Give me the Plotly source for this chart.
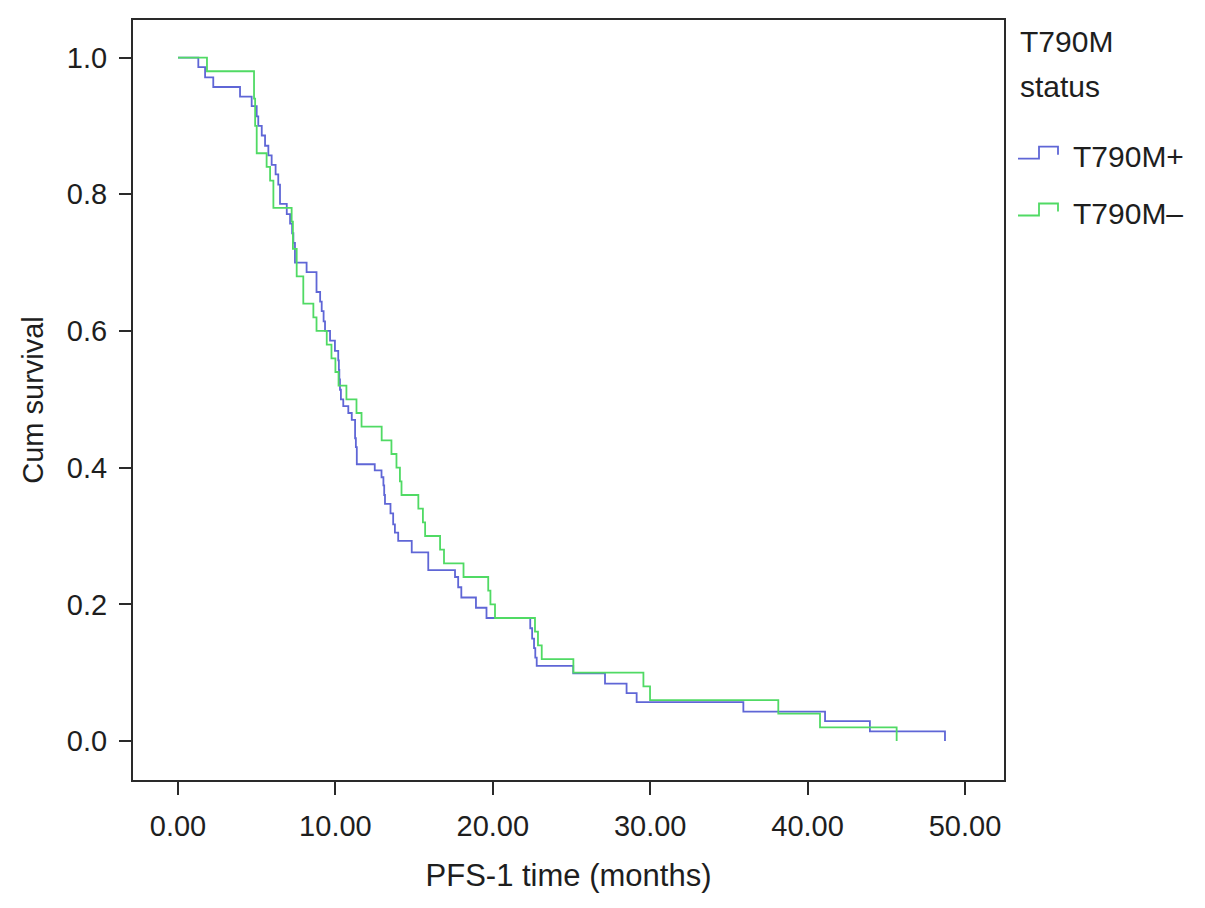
import plotly.graph_objects as go

# ---- data ----
t_pos = [0, 1.29, 1.72, 2.24, 3.94, 4.68, 5.0, 5.1, 5.32, 5.53, 5.74, 5.95, 6.2, 6.37,
         6.48, 6.91, 7.12, 7.25, 7.33, 7.43, 8.17, 8.8, 9.03, 9.13, 9.25, 9.34, 9.66,
         9.97, 10.18, 10.22, 10.25, 10.29, 10.35, 10.5, 10.82, 11.04, 11.25, 11.3, 11.36,
         12.5, 12.93, 13.05, 13.1, 13.15, 13.5, 13.67, 13.78, 13.99, 14.85, 15.9, 17.6,
         17.8, 18.0, 18.93, 19.6, 22.38, 22.5, 22.62, 22.7, 22.79, 25.11, 27.13, 28.5,
         29.14, 35.92, 41.11, 43.96, 48.73]
s_pos = [1.0, 0.986, 0.971, 0.957, 0.943, 0.929, 0.914, 0.90, 0.886, 0.871, 0.857, 0.843,
         0.829, 0.814, 0.786, 0.771, 0.757, 0.743, 0.729, 0.70, 0.686, 0.657, 0.643, 0.629,
         0.614, 0.60, 0.586, 0.571, 0.557, 0.543, 0.529, 0.514, 0.50, 0.49, 0.48, 0.47,
         0.443, 0.43, 0.405, 0.396, 0.386, 0.374, 0.36, 0.347, 0.333, 0.317, 0.305, 0.293,
         0.276, 0.25, 0.24, 0.225, 0.21, 0.195, 0.18, 0.165, 0.15, 0.136, 0.122, 0.11,
         0.099, 0.084, 0.07, 0.057, 0.043, 0.029, 0.014, 0.0]

t_neg = [0, 1.84, 4.83, 4.9, 5.0, 5.63, 5.85, 6.06, 7.22, 7.3, 7.54, 7.96, 8.6, 8.8, 9.45,
         9.75, 10.0, 10.2, 10.7, 11.34, 11.66, 12.94, 13.56, 13.88, 14.1, 14.2, 15.27,
         15.56, 15.7, 16.65, 16.9, 18.14, 19.71, 19.85, 20.14, 22.68, 22.87, 23.11, 25.12,
         29.57, 29.99, 38.14, 40.79, 45.66]
s_neg = [1.0, 0.98, 0.94, 0.90, 0.86, 0.84, 0.82, 0.78, 0.76, 0.72, 0.68, 0.64, 0.62, 0.60,
         0.58, 0.56, 0.54, 0.52, 0.50, 0.48, 0.46, 0.44, 0.42, 0.40, 0.38, 0.36, 0.34, 0.32,
         0.30, 0.28, 0.26, 0.24, 0.22, 0.20, 0.18, 0.16, 0.14, 0.12, 0.10, 0.08, 0.06, 0.04,
         0.02, 0.0]

group_names = ["T790M+", "T790M\u2013"]
legend_title_lines = ["T790M", "status"]
x_ticks = [0, 10, 20, 30, 40, 50]
y_ticks = [0.0, 0.2, 0.4, 0.6, 0.8, 1.0]

BLUE = "#5f66d6"
GREEN = "#50da64"
FONT = "Arial, Liberation Sans, Helvetica, sans-serif"
TXT = "#1e1e1e"

W, H = 1205, 908
OFF = 8  # page body margin offset
L, R, T, B = 133 - OFF, 1004 - OFF, 18 - OFF, 780 - OFF  # plot frame in figure pixels


def px2x(px):
    return (px - OFF - L) / (R - L)


def px2y(py):
    return (B - (py - OFF)) / (B - T)


fig = go.Figure()
fig.add_trace(go.Scatter(x=t_pos, y=s_pos, mode="lines", line=dict(color=BLUE, width=1.8, shape="hv"),
                         name=group_names[0], showlegend=False))
fig.add_trace(go.Scatter(x=t_neg, y=s_neg, mode="lines", line=dict(color=GREEN, width=1.8, shape="hv"),
                         name=group_names[1], showlegend=False))

# custom legend (step icons + labels)
shapes = []
annotations = []
for j, line in enumerate(legend_title_lines):
    annotations.append(dict(x=px2x(1018), y=px2y(40 + j * 45), xref="paper", yref="paper", text=line,
                            showarrow=False, xanchor="left", yanchor="middle", align="left",
                            font=dict(family=FONT, size=30, color=TXT)))
for i, (name, col) in enumerate(zip(group_names, [BLUE, GREEN])):
    cy = 155 + i * 57
    path = "M {} {} L {} {} L {} {} L {} {} L {} {}".format(
        px2x(1018), px2y(cy + 2), px2x(1039), px2y(cy + 2), px2x(1039), px2y(cy - 10),
        px2x(1058), px2y(cy - 10), px2x(1058), px2y(cy - 2))
    shapes.append(dict(type="path", path=path, xref="paper", yref="paper",
                       line=dict(color=col, width=1.8)))
    annotations.append(dict(x=px2x(1071), y=px2y(cy), xref="paper", yref="paper", text=name,
                            showarrow=False, xanchor="left", yanchor="middle",
                            font=dict(family=FONT, size=30, color=TXT)))

axis_common = dict(showline=True, linecolor="#2a2a2a", linewidth=2, mirror=True,
                   showgrid=False, zeroline=False, ticks="outside", tickcolor="#2a2a2a",
                   tickwidth=1.5, tickfont=dict(family=FONT, size=29, color=TXT))

fig.update_layout(
    width=W, height=H,
    margin=dict(l=L, r=W - R, t=T, b=H - B, pad=0),
    paper_bgcolor="white", plot_bgcolor="white",
    font=dict(family=FONT, size=29, color=TXT),
    shapes=shapes, annotations=annotations,
    xaxis=dict(range=[-2.86, 52.48], tickvals=x_ticks, tickformat=".2f", ticklen=13,
               ticklabelstandoff=6,
               title=dict(text="PFS-1 time (months)", standoff=24,
                          font=dict(family=FONT, size=31, color=TXT)),
               **axis_common),
    yaxis=dict(range=[-0.057, 1.055], tickvals=y_ticks, tickformat=".1f", ticklen=12,
               ticklabelstandoff=6,
               title=dict(text="Cum survival", standoff=15,
                          font=dict(family=FONT, size=29, color=TXT)),
               **axis_common),
)

fig.write_html("out.html")
